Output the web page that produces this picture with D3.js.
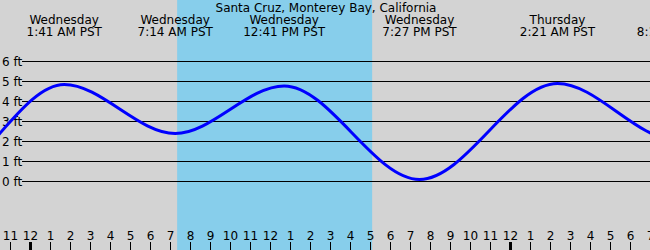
<!DOCTYPE html>
<html>
<head>
<meta charset="utf-8">
<script src="https://cdn.jsdelivr.net/npm/d3@7"></script>
<style>
  html, body { margin: 0; padding: 0; background: #d3d3d3; }
  svg { display: block; font-family: "DejaVu Sans", sans-serif; }
</style>
</head>
<body>
<div id="chart"></div>
<script>
// tide extremes, hours from Wednesday 00:00 PST
const extremeHours = [-11.0, -4.72, 1.683, 7.233, 12.683, 19.45, 26.35, 32.25, 38.2];
const extremeHeights = [4.6, 0.0, 4.85, 2.4, 4.78, 0.1, 4.9, 2.1, 4.5];

// header labels (last day name falls off the edge)
const labelHours = [1.683, 7.233, 12.683, 19.45, 26.35, 32.2];
const labelDays = ["Wednesday", "Wednesday", "Wednesday", "Wednesday", "Thursday", ""];
const labelTimes = ["1:41 AM PST", "7:14 AM PST", "12:41 PM PST", "7:27 PM PST", "2:21 AM PST", "8:15 AM PST"];

// daylight (sunrise / sunset)
const daylight = [7.333, 17.083];

// y ticks
const feetTicks = [0, 1, 2, 3, 4, 5, 6];

// bottom hour ticks
const hourTicks = d3.range(-1, 32);
const hourLabels = ["11", "12", "1", "2", "3", "4", "5", "6", "7", "8", "9", "10", "11",
  "12", "1", "2", "3", "4", "5", "6", "7", "8", "9", "10", "11",
  "12", "1", "2", "3", "4", "5", "6", "7"];
const midnights = [0, 24];

const title = "Santa Cruz, Monterey Bay, California";

const width = 650, height = 250;

const svg = d3.select("#chart").append("svg")
  .attr("width", width)
  .attr("height", height);

const x = d3.scaleLinear().domain([-1.5, 31]).range([0.5, 650.5]);
const y = d3.scaleLinear().domain([0, 6]).range([181.5, 61.5]);

// background
svg.append("rect")
  .attr("width", width).attr("height", height)
  .attr("fill", "#d3d3d3");

// daylight band
svg.append("rect")
  .attr("x", x(daylight[0]))
  .attr("y", 0)
  .attr("width", x(daylight[1]) - x(daylight[0]))
  .attr("height", height)
  .attr("fill", "#87ceeb");

// grid lines + y labels
const gy = svg.append("g");
gy.selectAll("line")
  .data(feetTicks)
  .enter().append("line")
  .attr("x1", 22).attr("x2", width)
  .attr("y1", d => y(d)).attr("y2", d => y(d))
  .attr("stroke", "#000")
  .attr("stroke-width", 1);
gy.selectAll("text")
  .data(feetTicks)
  .enter().append("text")
  .attr("x", 2)
  .attr("y", d => y(d) + 4)
  .style("font-size", "12px")
  .text(d => d + " ft");

// tide curve
const tide = extremeHours.map((h, i) => ({ h, v: extremeHeights[i] }));
svg.append("path")
  .datum(tide)
  .attr("fill", "none")
  .attr("stroke", "#0000ff")
  .attr("stroke-width", 3)
  .attr("d", d3.line().x(d => x(d.h)).y(d => y(d.v)).curve(d3.curveMonotoneX));

// title
svg.append("text")
  .attr("x", width / 2 + 1)
  .attr("y", 12)
  .attr("text-anchor", "middle")
  .style("font-size", "12px")
  .text(title);

// extreme labels
const hdr = svg.append("g").selectAll("g")
  .data(labelHours)
  .enter().append("g")
  .attr("transform", d => `translate(${x(d)},0)`);
hdr.append("text")
  .attr("y", 24)
  .attr("text-anchor", "middle")
  .style("font-size", "12px")
  .text((d, i) => labelDays[i]);
hdr.append("text")
  .attr("y", 36)
  .attr("text-anchor", "middle")
  .style("font-size", "12px")
  .text((d, i) => labelTimes[i]);

// bottom hour axis
const gx = svg.append("g");
gx.selectAll("line")
  .data(hourTicks)
  .enter().append("line")
  .attr("x1", d => x(d)).attr("x2", d => x(d))
  .attr("y1", 242).attr("y2", height)
  .attr("stroke", "#000")
  .attr("stroke-width", d => midnights.includes(d) ? 3 : 1);
gx.selectAll("text")
  .data(hourTicks)
  .enter().append("text")
  .attr("x", d => x(d))
  .attr("y", 240)
  .attr("text-anchor", "middle")
  .style("font-size", "12px")
  .text((d, i) => hourLabels[i]);
</script>
</body>
</html>
